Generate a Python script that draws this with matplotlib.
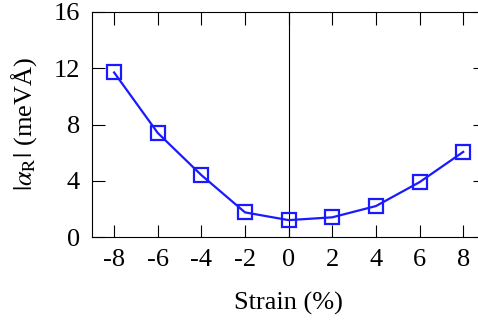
import matplotlib
matplotlib.use('Agg')
import matplotlib.pyplot as plt

# Dane
strain = [-8, -6, -4, -2, 0, 2, 4, 6, 8]
alpha_r = [11.7, 7.4, 4.4, 1.75, 1.2, 1.4, 2.2, 3.9, 6.05]
x_ticks = [-8, -6, -4, -2, 0, 2, 4, 6, 8]
y_ticks = [0, 4, 8, 12, 16]

plt.rcParams['font.family'] = 'serif'
plt.rcParams['font.serif'] = ['Liberation Serif', 'STIXGeneral', 'DejaVu Serif']
plt.rcParams['mathtext.fontset'] = 'stix'
plt.rcParams['axes.unicode_minus'] = False

fig = plt.figure(figsize=(4.78, 3.2), dpi=100)
# prawa krawędź osi wypada poza obrazek (jak w oryginale)
ax = fig.add_axes([92.3 / 478, 83 / 320, (485 - 92.3) / 478, 225 / 320])

ax.axvline(0, color='black', lw=0.8)
ax.plot(strain, alpha_r, color='#1a1aff', lw=1.6, marker='s', markersize=10,
        markerfacecolor='none', markeredgewidth=1.6, markeredgecolor='#1a1aff')

ax.set_xlim(-9, 9)
ax.set_ylim(0, 16)
ax.set_xticks(x_ticks)
ax.set_yticks(y_ticks)
ax.tick_params(direction='in', length=9, width=0.8, top=True, right=True,
               labelsize=19, pad=9)
for s in ax.spines.values():
    s.set_linewidth(0.8)

ax.set_xlabel('Strain (%)', fontsize=19, labelpad=15)
ax.set_ylabel(r'$|\alpha_{\rm R}|$ (meVÅ)', fontsize=19, labelpad=10)

plt.savefig('out.png', dpi=100)
